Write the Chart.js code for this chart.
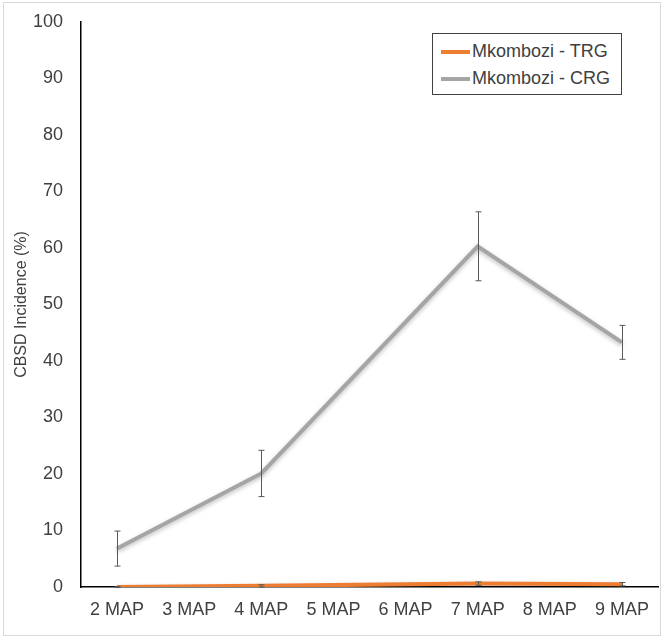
<!DOCTYPE html>
<html>
<head>
<meta charset="utf-8">
<script src="https://cdn.jsdelivr.net/npm/chart.js@4"></script>
<style>
  body { margin: 0; background: #fff; }
  #wrap { position: relative; width: 666px; height: 641px; }
  #frame { position: absolute; left: 3px; top: 2px; width: 658px; height: 634px; border: 1px solid #d9d9d9; box-sizing: border-box; pointer-events: none; }
  #legend { position: absolute; left: 432px; top: 33px; width: 190px; height: 62px; border: 1px solid #404040; box-sizing: border-box; background: #fff;
    font-family: "Liberation Sans", sans-serif; font-size: 18px; color: #404040; padding-top: 4px; }
  .item { display: flex; align-items: center; height: 27px; padding-left: 8px; }
  .swatch { width: 29px; height: 4px; margin-right: 2px; }
</style>
</head>
<body>
<div id="wrap">
  <canvas id="chart" width="666" height="641"></canvas>
  <div id="frame"></div>
  <div id="legend">
    <div class="item"><span class="swatch" style="background:#ED7D31"></span>Mkombozi - TRG</div>
    <div class="item"><span class="swatch" style="background:#A5A5A5"></span>Mkombozi - CRG</div>
  </div>
</div>
<script>
const labels = ['2 MAP', '3 MAP', '4 MAP', '5 MAP', '6 MAP', '7 MAP', '8 MAP', '9 MAP'];
const trgValues = [0, null, 0.2, null, null, 0.6, null, 0.5];
const trgErr = [0.1, null, 0.2, null, null, 0.3, null, 0.3];
const crgValues = [6.8, null, 20.1, null, null, 60.3, null, 43.3];
const crgErr = [3.1, null, 4.1, null, null, 6.1, null, 3.0];

const errorBars = {
  id: 'errorBars',
  afterDatasetsDraw(chart) {
    const ctx = chart.ctx;
    const y = chart.scales.y;
    ctx.save();
    ctx.strokeStyle = '#595959';
    ctx.lineWidth = 1;
    chart.data.datasets.forEach((ds, i) => {
      const meta = chart.getDatasetMeta(i);
      ds.err.forEach((e, j) => {
        if (e == null || ds.data[j] == null) return;
        const x = Math.round(meta.data[j].x) + 0.5;
        const top = y.getPixelForValue(ds.data[j] + e);
        const bot = y.getPixelForValue(ds.data[j] - e);
        ctx.beginPath();
        ctx.moveTo(x, top); ctx.lineTo(x, bot);
        ctx.moveTo(x - 3, top); ctx.lineTo(x + 3, top);
        ctx.moveTo(x - 3, bot); ctx.lineTo(x + 3, bot);
        ctx.stroke();
      });
    });
    ctx.restore();
  }
};

const shadow = {
  id: 'shadow',
  beforeDatasetDraw(chart) {
    const ctx = chart.ctx;
    ctx.save();
    ctx.shadowColor = 'rgba(0,0,0,0.25)';
    ctx.shadowBlur = 4;
    ctx.shadowOffsetY = 2;
  },
  afterDatasetDraw(chart) {
    chart.ctx.restore();
  }
};

new Chart(document.getElementById('chart'), {
  type: 'line',
  data: {
    labels: labels,
    datasets: [{
      label: 'Mkombozi - TRG',
      data: trgValues,
      err: trgErr,
      borderColor: '#ED7D31',
      backgroundColor: '#ED7D31',
      borderWidth: 4,
      pointRadius: 0,
      spanGaps: true
    }, {
      label: 'Mkombozi - CRG',
      data: crgValues,
      err: crgErr,
      borderColor: '#A5A5A5',
      backgroundColor: '#A5A5A5',
      borderWidth: 4,
      pointRadius: 0,
      spanGaps: true
    }]
  },
  options: {
    responsive: false,
    animation: false,
    layout: { padding: { left: 8, top: 22, right: 8, bottom: 4 } },
    plugins: {
      legend: { display: false },
      tooltip: { enabled: false }
    },
    scales: {
      x: {
        offset: true,
        afterFit: s => { s.height = 50; },
        grid: { display: false, drawTicks: false },
        border: { color: '#000', width: 1.5 },
        ticks: { color: '#404040', font: { family: 'Liberation Sans', size: 18 }, padding: 12, maxRotation: 0 }
      },
      y: {
        min: 0,
        max: 100,
        afterFit: s => { s.width = 73; s.paddingTop = 0; },
        grid: { display: false, drawTicks: false },
        border: { color: '#000', width: 1.5 },
        ticks: { stepSize: 10, color: '#404040', font: { family: 'Liberation Sans', size: 18 }, padding: 18 },
        title: { display: true, text: 'CBSD Incidence (%)', color: '#404040', font: { family: 'Liberation Sans', size: 16 } }
      }
    }
  },
  plugins: [shadow, errorBars]
});
</script>
</body>
</html>
